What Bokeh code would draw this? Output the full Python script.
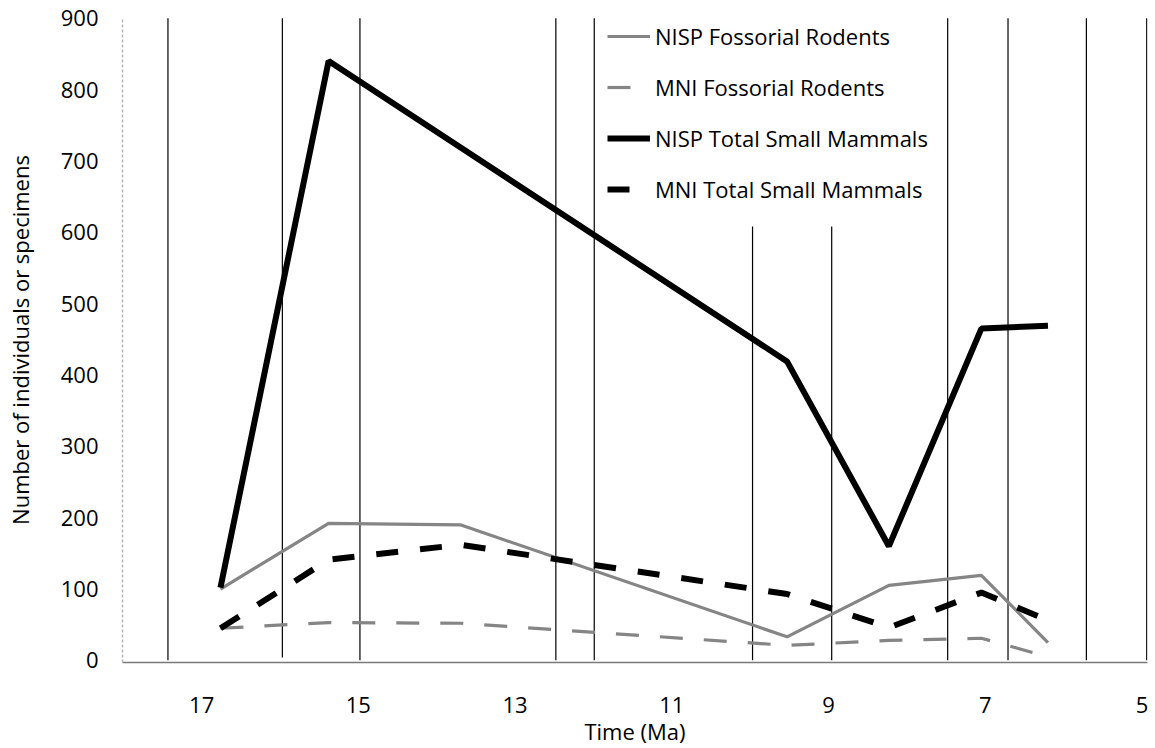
from bokeh.plotting import figure
from bokeh.models import Range1d, FixedTicker, Legend, LegendItem, ColumnDataSource
from bokeh.embed import file_html
from bokeh.resources import INLINE

# Data (Time in Ma, reversed axis)
time_ma = [16.76, 15.38, 13.70, 9.53, 8.23, 7.05, 6.20]
nisp_fossorial = [100, 192, 190, 33, 105, 119, 25]
mni_fossorial = [45, 53, 52, 21, 28, 31, 5]
nisp_total = [102, 840, 719, 419, 160, 465, 469]
mni_total = [45, 141, 162, 93, 46, 95, 56]

# Vertical boundary lines (Ma) and their top values
boundary_ma = [17.43, 15.97, 14.98, 12.48, 11.99, 9.97, 8.96, 7.48, 6.71, 5.71, 4.94]
boundary_top = [900, 900, 900, 900, 900, 608, 608, 900, 900, 900, 900]
boundary_bottom = [0, 4, 0, 0, 0, 0, 0, 0, 0, 0, 0]

x_ticks = [17, 15, 13, 11, 9, 7, 5]
y_ticks = [0, 100, 200, 300, 400, 500, 600, 700, 800, 900]

FONT = "Open Sans"
FS = "22px"

p = figure(width=1155, height=748, output_backend="svg", toolbar_location=None,
           x_range=Range1d(18.01, 4.93), y_range=Range1d(-3, 901),
           min_border_left=122, min_border_right=8, min_border_top=17, min_border_bottom=83)
p.outline_line_color = None
p.xgrid.visible = False
p.ygrid.visible = False
p.background_fill_color = "white"
p.border_fill_color = "white"

bsrc = ColumnDataSource(dict(x=boundary_ma, top=boundary_top, bottom=boundary_bottom))
p.segment(x0="x", y0="bottom", x1="x", y1="top", source=bsrc, line_color="black", line_width=1.2)

r1 = p.line(time_ma, nisp_fossorial, line_color="#858585", line_width=3.2)
r2 = p.line(time_ma, mni_fossorial, line_color="#858585", line_width=3.2, line_dash="23 21")
r3 = p.line(time_ma, nisp_total, line_color="black", line_width=6)
r4 = p.line(time_ma, mni_total, line_color="black", line_width=6, line_dash="22 22")

legend = Legend(items=[
    LegendItem(label="NISP Fossorial Rodents", renderers=[r1]),
    LegendItem(label="MNI Fossorial Rodents", renderers=[r2]),
    LegendItem(label="NISP Total Small Mammals", renderers=[r3]),
    LegendItem(label="MNI Total Small Mammals", renderers=[r4]),
], location=(485, 458))
legend.background_fill_alpha = 0
legend.border_line_color = None
legend.padding = 0
legend.margin = 0
legend.glyph_width = 43
legend.glyph_height = 20
legend.label_height = 20
legend.spacing = 21
legend.label_standoff = 5
legend.label_text_font = FONT
legend.label_text_font_size = FS
legend.label_text_color = "black"
p.add_layout(legend, "center")

# Axes
p.xaxis.ticker = FixedTicker(ticks=x_ticks)
p.yaxis.ticker = FixedTicker(ticks=y_ticks)
for ax in (p.xaxis[0], p.yaxis[0]):
    ax.major_tick_out = 0
    ax.major_tick_in = 0
    ax.minor_tick_out = 0
    ax.minor_tick_in = 0
    ax.major_label_text_font = FONT
    ax.major_label_text_font_size = FS
    ax.major_label_text_color = "black"
    ax.axis_label_text_font = FONT
    ax.axis_label_text_font_size = FS
    ax.axis_label_text_font_style = "normal"
    ax.axis_label_text_color = "black"

p.xaxis.axis_label = "Time (Ma)"
p.yaxis.axis_label = "Number of individuals or specimens"
p.xaxis.major_label_standoff = 34
p.xaxis.axis_label_standoff = 0
p.yaxis.major_label_standoff = 24
p.yaxis.axis_label_standoff = 23
p.xaxis.axis_line_color = "#7a7a7a"
p.xaxis.axis_line_width = 1.5
p.yaxis.axis_line_color = "#b5b5b5"
p.yaxis.axis_line_width = 1.5
p.yaxis.axis_line_dash = "3 2"

open("out.html", "w").write(file_html(p, INLINE))
